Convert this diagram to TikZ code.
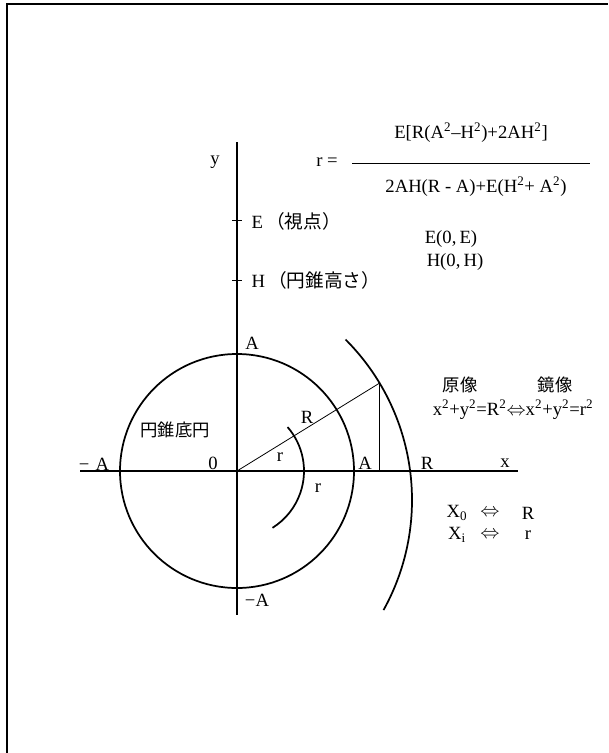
\documentclass[tikz,border=0pt]{standalone}
\usepackage{fontspec}
\setmainfont{Liberation Serif}
\newfontfamily\jpfont{Noto Sans CJK JP}
\usetikzlibrary{positioning, calc}
\tikzset{
    axisLine/.style={line width=1.6pt},
    arcLine/.style={line width=1.3pt},
    thinLine/.style={line width=0.6pt},
    lbl/.style={font=\fontsize{14}{16}\selectfont, inner sep=1pt},
    jlbl/.style={font=\jpfont\fontsize{13}{16}\selectfont, inner sep=1pt},
    fml/.style={font=\fontsize{14}{16}\selectfont, inner sep=1pt}
}
\begin{document}
\begin{tikzpicture}[x=0.75pt,y=-0.75pt]
    \useasboundingbox (0,0) rectangle (608,753);
    % --- frame ---
    \draw[line width=0.9pt] (7,753) -- (7,4) -- (608,4);
    % --- axes ---
    \coordinate (O) at (237,471);
    \coordinate (xl) at (80,471); \coordinate (xr) at (518,471);
    \coordinate (yt) at (237,142); \coordinate (yb) at (237,615);
    \draw[axisLine] (xl) -- (xr);
    \draw[axisLine] (yt) -- (yb);
    \draw[thinLine] (232,220) -- (242,220);
    \draw[thinLine] (232,280) -- (242,280);
    % --- base circle and arcs ---
    \draw[arcLine] (O) circle[radius=117];
    \draw[arcLine] (O) ++(-41:67) arc[start angle=-41, end angle=58, radius=67];
    \coordinate (C2) at (185,500);
    \draw[arcLine] (C2) ++(-45:227) arc[start angle=-45, end angle=29, radius=227];
    \coordinate (P) at ($(C2)+(-31:227)$);
    \coordinate (Px) at (P |- O);
    \draw[thinLine] (O) -- (P);
    \draw[thinLine] (P) -- (Px);
    % --- formula ---
    \node[lbl] (ylab) at (215,162) {y};
    \node[fml] (rEq) at (327,162) {r =};
    \node[fml] (num) at (471,133) {E[R(A\textsuperscript{2}--H\textsuperscript{2})+2AH\textsuperscript{2}]};
    \node[fml] (den) at (476,187) {2AH(R - A)+E(H\textsuperscript{2}+ A\textsuperscript{2})};
    \draw[thinLine] (352,163) -- (590,163);
    % --- labels on y axis ---
    \node[lbl, anchor=west] (Elab) at (250,221) {E\,{\jpfont （視点）}};
    \node[lbl, anchor=west] (Hlab) at (250,280) {H\,{\jpfont （円錐高さ）}};
    \node[lbl] (Ept) at (451,239) {E(0,\,E)};
    \node[lbl] (Hpt) at (455,262) {H(0,\,H)};
    \node[lbl] (Atop) at (252,343) {A};
    \node[lbl] (mAb) at (257,600) {−A};
    % --- labels on x axis ---
    \node[lbl] (mAl) at (94,464) {−\,\,A};
    \node[lbl] (zero) at (213,463) {0};
    \node[lbl] (Ar) at (365,463) {A};
    \node[lbl] (Rr) at (427,463) {R};
    \node[lbl] (xlab) at (505,463) {x};
    \node[lbl] (Rlab) at (307,417) {R};
    \node[lbl] (rlab) at (280,457) {r};
    \node[lbl] (rlab2) at (318,488) {r};
    \node[jlbl] (base) at (175,430) {円錐底円};
    % --- mapping text ---
    \node[jlbl] (orig) at (460,385) {原像};
    \node[jlbl] (mirr) at (555,385) {鏡像};
    \node[lbl] (eqn) at (513,410) {x\textsuperscript{2}+y\textsuperscript{2}=R\textsuperscript{2}$\Leftrightarrow$x\textsuperscript{2}+y\textsuperscript{2}=r\textsuperscript{2}};
    \node[lbl] (X0) at (457,513) {X\textsubscript{0}};
    \node[lbl] (eq0) at (490,513) {$\Leftrightarrow$};
    \node[lbl] (R0) at (528,513) {R};
    \node[lbl] (X1) at (457,535) {X\textsubscript{i}};
    \node[lbl] (eq1) at (490,535) {$\Leftrightarrow$};
    \node[lbl] (r1) at (528,535) {r};
\end{tikzpicture}
\end{document}
